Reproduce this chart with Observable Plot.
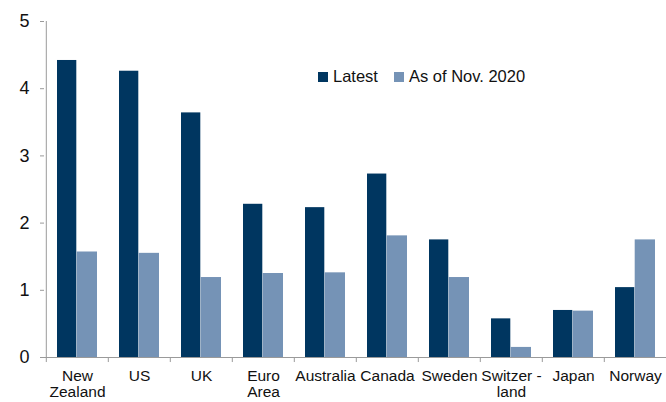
<!DOCTYPE html>
<html>
<head>
<meta charset="utf-8">
<script src="https://cdn.jsdelivr.net/npm/d3@7"></script>
<script src="https://cdn.jsdelivr.net/npm/@observablehq/plot@0.6"></script>
<style>
  html, body { margin: 0; padding: 0; background: #fff; }
  #wrap { position: relative; width: 666px; height: 402px; font-family: "Liberation Sans", Arial, sans-serif; }
  #legend { position: absolute; left: 318px; top: 67px; font-size: 16.5px; color: #111; display: flex; align-items: center; white-space: nowrap; }
  .sw { display: inline-block; width: 10px; height: 10px; margin-right: 5px; }
  .item { display: flex; align-items: center; margin-right: 16px; }
</style>
</head>
<body>
<div id="wrap">
  <div id="chart"></div>
  <div id="legend"></div>
</div>
<script>
const countries = ["New\nZealand", "US", "UK", "Euro\nArea", "Australia", "Canada", "Sweden", "Switzer -\nland", "Japan", "Norway"];
const latest = [4.42, 4.26, 3.64, 2.28, 2.23, 2.73, 1.75, 0.575, 0.70, 1.04];
const asOfNov2020 = [1.57, 1.55, 1.19, 1.25, 1.26, 1.81, 1.19, 0.15, 0.69, 1.75];
const seriesNames = ["Latest", "As of Nov. 2020"];
const seriesColors = ["#003660", "#7593b6"];
const yTicks = [0, 1, 2, 3, 4, 5];

const dataLatest = countries.map((c, i) => ({country: c, value: latest[i]}));
const dataNov = countries.map((c, i) => ({country: c, value: asOfNov2020[i]}));

const xRange = [44, 668];
const bw = (xRange[1] - xRange[0]) / countries.length;
const axisGray = "#9a9a9a";

const chart = Plot.plot({
  width: 666,
  height: 402,
  marginTop: 21,
  marginBottom: 45,
  marginLeft: 44,
  marginRight: 0,
  style: {fontFamily: "'Liberation Sans', Arial, sans-serif", color: "#111", background: "#fff"},
  x: {domain: countries, range: xRange, padding: 0, label: null},
  y: {domain: [0, 5], label: null},
  marks: [
    Plot.barY(dataLatest, {x: "country", y: "value", fill: seriesColors[0], insetLeft: bw/2 - 20.2, insetRight: bw/2 + 0.5}),
    Plot.barY(dataNov, {x: "country", y: "value", fill: seriesColors[1], insetLeft: bw/2 - 0.5, insetRight: bw/2 - 20.2}),
    Plot.ruleY([0], {stroke: axisGray, strokeWidth: 1}),
    Plot.ruleX(countries, {x: d => d, dx: -bw/2, y1: 0, y2: -0.075, stroke: axisGray}),
    Plot.ruleX([countries[0]], {x: d => d, dx: -bw/2, y1: 0, y2: 5, stroke: axisGray}),
    Plot.axisY({ticks: yTicks, tickSize: 4, tickPadding: 11, fontSize: 18, stroke: axisGray, tickFormat: d => String(d), label: null}),
    Plot.axisX({tickSize: 0, tickPadding: 12, fontSize: 15.5, lineHeight: 1.05, label: null})
  ]
});
chart.querySelectorAll('g[aria-label="y-axis tick label"] text, g[aria-label="x-axis tick label"] text').forEach(t => t.setAttribute("fill", "#111"));
document.getElementById("chart").appendChild(chart);

const legend = document.getElementById("legend");
seriesNames.forEach((n, i) => {
  const it = document.createElement("div");
  it.className = "item";
  const sw = document.createElement("span");
  sw.className = "sw";
  sw.style.background = seriesColors[i];
  it.appendChild(sw);
  it.appendChild(document.createTextNode(n));
  legend.appendChild(it);
});
</script>
</body>
</html>
